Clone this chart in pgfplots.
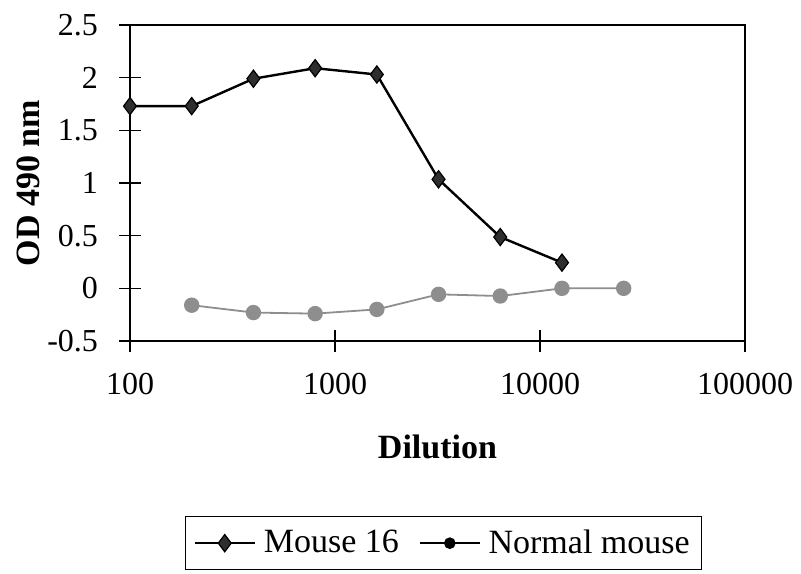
\documentclass[border=0pt]{standalone}
\usepackage{fontspec}
\setmainfont{Liberation Serif}
\usepackage{pgfplots}
\pgfplotsset{compat=1.18}

\definecolor{normalgray}{HTML}{8E8E8E}
\definecolor{diamondfill}{HTML}{2E2E2E}

\begin{document}
\begin{tikzpicture}
\path[use as bounding box] (-65pt,-116pt) rectangle (335.5pt,170.5pt);
\begin{axis}[
  at={(0,0)}, anchor=south west,
  scale only axis,
  width=307.5pt, height=158pt,
  xmode=log,
  xmin=100, xmax=100000,
  ymin=-0.5, ymax=2.5,
  xtick={100,1000,10000,100000},
  xticklabels={100,1000,10000,100000},
  ytick={-0.5,0,0.5,1,1.5,2,2.5},
  yticklabels={-0.5,0,0.5,1,1.5,2,2.5},
  xminorticks=false,
  tick pos=left,
  tick align=center,
  major tick length=11pt,
  tick style={black, line width=0.6pt},
  axis line style={black, line width=0.8pt},
  ticklabel style={font=\fontsize{16}{18}\selectfont},
  xticklabel style={yshift=-7pt},
  yticklabel style={xshift=-7pt},
  xlabel={Dilution},
  ylabel={OD 490 nm},
  every axis x label/.style={at={(axis description cs:0.5,-0.335)}, anchor=center,
    font=\fontsize{17}{19}\selectfont\bfseries},
  every axis y label/.style={at={(axis description cs:-0.166,0.5)}, rotate=90, anchor=center,
    font=\fontsize{17}{19}\selectfont\bfseries},
  legend columns=2,
  legend style={
    at={(axis description cs:0.51,-0.555)}, anchor=north,
    draw=black, line width=0.5pt,
    font=\fontsize{17}{19}\selectfont,
    inner xsep=4pt, inner ysep=4.5pt,
    /tikz/every odd column/.append style={column sep=2pt},
    /tikz/every even column/.append style={column sep=8pt},
  },
  legend cell align=left,
  legend image code/.code={
    \draw[mark repeat=2, mark phase=2, #1]
      plot coordinates {(0pt,0pt) (15pt,0pt) (30pt,0pt)};
  },
]
% Mouse 16 serum
\addplot[black, line width=1.2pt, mark=diamond*, mark size=4.3pt,
         mark options={fill=diamondfill, draw=black, line width=0.6pt}]
  coordinates {
    (100,1.73) (200,1.73) (400,1.99) (800,2.09) (1600,2.03)
    (3200,1.035) (6400,0.487) (12800,0.244)
  };
\addlegendentry{Mouse 16}

% Normal mouse serum
\addplot[normalgray, line width=0.9pt, mark=*, mark size=3.4pt,
         mark options={fill=normalgray, draw=normalgray}, forget plot]
  coordinates {
    (200,-0.16) (400,-0.23) (800,-0.24) (1600,-0.20)
    (3200,-0.057) (6400,-0.073) (12800,0.0) (25600,0.0)
  };
\addlegendimage{black, line width=0.8pt, mark=*, mark size=2.5pt,
                mark options={fill=black, draw=black}}
\addlegendentry{Normal mouse}
\end{axis}
\end{tikzpicture}
\end{document}
